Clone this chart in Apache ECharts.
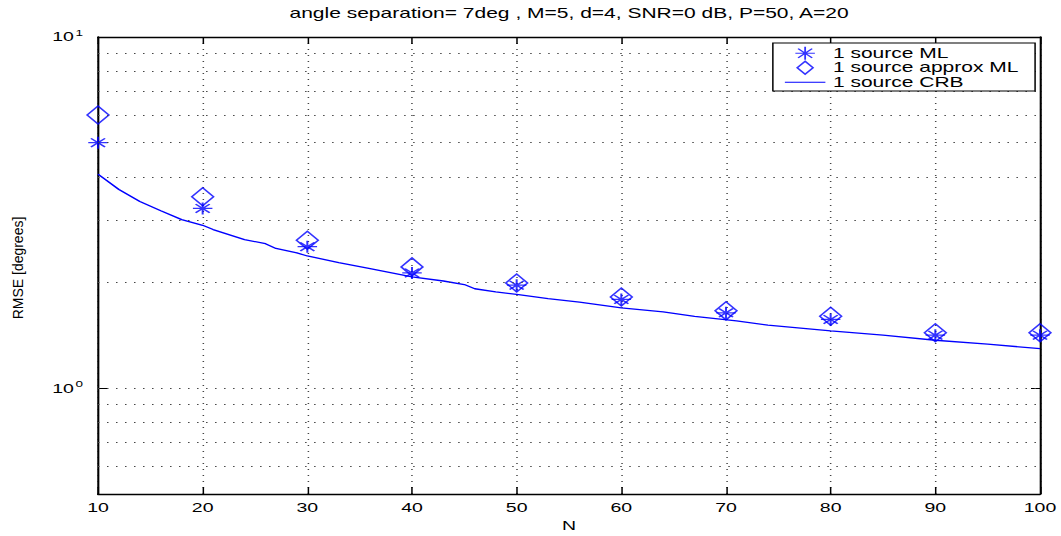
<!DOCTYPE html>
<html><head><meta charset="utf-8">
<script src="https://cdn.jsdelivr.net/npm/echarts@6/dist/echarts.min.js"></script>
<style>
html,body{margin:0;padding:0;background:#fff;overflow:hidden;}
#chart{width:707px;height:536px;transform:scaleX(1.50071);transform-origin:0 0;}
</style></head><body><div id="chart"></div>
<script>
// ---- data ----
const titleText = 'angle separation= 7deg , M=5, d=4, SNR=0 dB, P=50, A=20';
const seriesNames = ['1 source ML', '1 source approx ML', '1 source CRB'];
const xName = 'N';
const yName = 'RMSE [degrees]';
const sampleN = [10, 20, 30, 40, 50, 60, 70, 80, 90, 100];
const mlRmse = [5.0, 3.25, 2.53, 2.13, 1.965, 1.79, 1.64, 1.57, 1.416, 1.416];
const approxMlRmse = [6.0, 3.51, 2.64, 2.216, 1.995, 1.82, 1.661, 1.604, 1.438, 1.438];
const crbN = [10, 12, 14, 16, 18, 20, 21, 24, 26, 27, 29, 30, 33, 36, 40, 43, 45, 46, 48, 50, 53, 56, 60, 64, 67, 71, 74, 80, 85, 90, 95, 100];
const crbRmse = [4.07, 3.68, 3.40, 3.20, 3.02, 2.91, 2.83, 2.65, 2.58, 2.50, 2.43, 2.38, 2.28, 2.19, 2.075, 2.02, 1.974, 1.92, 1.88, 1.85, 1.80, 1.76, 1.694, 1.65, 1.603, 1.555, 1.512, 1.457, 1.416, 1.37, 1.335, 1.297];
const xMin = 10, xMax = 100, xStep = 10;
const yMin = 0.5, yMax = 10;
const yGridValues = [0.6, 0.7, 0.8, 0.9, 1, 2, 3, 4, 5, 6, 7, 8, 9];

// ---- styling ----
const S = 1.50071; // horizontal stretch of the container
const FONT = "'Liberation Sans', Arial, Helvetica, sans-serif";
const BLUE = '#0000ff';
const asteriskPath = 'path://M0,-1L0,1M-1,0L1,0M-0.72,-0.72L0.72,0.72M-0.72,0.72L0.72,-0.72';
const diamondIcon = 'path://M0,-1.22L1,0L0,1.22L-1,0Z';
const lineIcon = 'path://M0,0L30,0L30,1.1L0,1.1Z';

const axisLineStyle = { color: '#000', width: 1.4 };
const gridDash = { color: '#444', width: 1, type: [1, 5] };

function yLabel(v) {
  const e = Math.log10(v);
  if (Math.abs(e - Math.round(e)) < 1e-6) return '{b|10}{s|' + Math.round(e) + '}';
  return '';
}

const chart = echarts.init(document.getElementById('chart'), null, { renderer: 'svg' });
chart.setOption({
  animation: false,
  backgroundColor: '#fff',
  title: {
    text: titleText, left: 379.2, top: 6, padding: 0, textAlign: 'center',
    textStyle: { fontSize: 14, fontWeight: 'normal', color: '#000', fontFamily: FONT }
  },
  grid: { left: 65.3, right: 14, top: 37, bottom: 42, show: false, outerBoundsMode: 'none', containLabel: false },
  legend: {
    orient: 'vertical', left: 515, top: 43, align: 'left', z: 20,
    padding: [3, 11, 1.5, 8], itemGap: 0, itemWidth: 27, itemHeight: 13,
    backgroundColor: '#fff', borderColor: '#000', borderWidth: 1, selectedMode: false,
    textStyle: { fontSize: 14, color: '#000', fontFamily: FONT, lineHeight: 14.5 },
    itemStyle: { borderWidth: 1.2 },
    data: [
      { name: seriesNames[0], icon: asteriskPath },
      { name: seriesNames[1], icon: diamondIcon },
      { name: seriesNames[2], icon: lineIcon, itemStyle: { color: BLUE, borderWidth: 0 } }
    ]
  },
  xAxis: [
    {
      type: 'value', min: xMin, max: xMax, interval: xStep, position: 'bottom',
      name: xName, nameLocation: 'middle', nameGap: 22,
      nameTextStyle: { fontSize: 13, color: '#000', fontFamily: FONT },
      axisLine: { show: true, onZero: false, lineStyle: axisLineStyle },
      axisTick: { show: true, inside: true, length: 7, lineStyle: { color: '#000', width: 1 } },
      axisLabel: { show: true, color: '#000', fontSize: 13, fontFamily: FONT, margin: 7, showMinLabel: true, showMaxLabel: true, hideOverlap: false },
      splitLine: { show: true, lineStyle: gridDash }
    },
    {
      type: 'value', min: xMin, max: xMax, interval: xStep, position: 'top',
      axisLine: { show: true, onZero: false, lineStyle: axisLineStyle },
      axisTick: { show: true, inside: true, length: 7, lineStyle: { color: '#000', width: 1 } },
      axisLabel: { show: false }, splitLine: { show: false }
    }
  ],
  yAxis: [
    {
      type: 'log', logBase: 10, min: yMin, max: yMax, position: 'left',
      axisLine: { show: true, onZero: false, lineStyle: axisLineStyle },
      axisTick: { show: true, inside: true, length: 6, lineStyle: { color: '#000', width: 1 } },
      axisLabel: {
        show: true, margin: 10, formatter: yLabel, showMinLabel: true, showMaxLabel: true, hideOverlap: false,
        rich: {
          b: { fontSize: 13, color: '#000', fontFamily: FONT },
          s: { fontSize: 9, color: '#000', fontFamily: FONT, padding: [0, 0, 8, 1] }
        }
      },
      splitLine: { show: false }
    },
    {
      type: 'log', logBase: 10, min: yMin, max: yMax, position: 'right',
      axisLine: { show: true, onZero: false, lineStyle: axisLineStyle },
      axisTick: { show: true, inside: true, length: 6, lineStyle: { color: '#000', width: 1 } },
      axisLabel: { show: false }, splitLine: { show: false }
    }
  ],
  graphic: [{
    type: 'text', x: 12, y: 268, rotation: Math.PI / 2, scaleY: 1 / S, silent: true,
    style: { text: yName, fontSize: 14, fontFamily: FONT, fill: '#000', align: 'center', verticalAlign: 'middle' }
  }],
  series: [
    {
      name: seriesNames[2], type: 'line', xAxisIndex: 0, yAxisIndex: 0,
      data: crbN.map((n, i) => [n, crbRmse[i]]),
      symbol: 'none', lineStyle: { color: BLUE, width: 1.3 }, itemStyle: { color: BLUE }, z: 2,
      markLine: {
        silent: true, symbol: ['none', 'none'], label: { show: false },
        lineStyle: gridDash, emphasis: { disabled: true },
        data: yGridValues.map(v => ({ yAxis: v }))
      }
    },
    {
      name: seriesNames[1], type: 'scatter', xAxisIndex: 0, yAxisIndex: 0, clip: false,
      data: sampleN.map((n, i) => [n, approxMlRmse[i]]),
      symbol: 'diamond', symbolSize: [14.5, 18],
      itemStyle: { color: 'transparent', borderColor: BLUE, borderWidth: 1.3 }, z: 3
    },
    {
      name: seriesNames[0], type: 'scatter', xAxisIndex: 0, yAxisIndex: 0, clip: false,
      data: sampleN.map((n, i) => [n, mlRmse[i]]),
      symbol: asteriskPath, symbolSize: [13, 12],
      itemStyle: { color: BLUE, borderColor: BLUE, borderWidth: 1.3 }, z: 4
    }
  ]
});
</script></body></html>
